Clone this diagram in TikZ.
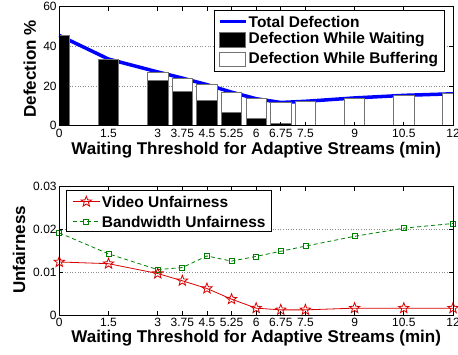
\documentclass[tikz,border=0pt]{standalone}
\usepackage{fontspec}
\setmainfont{Liberation Sans}
\usetikzlibrary{arrows.meta,positioning,shapes.geometric}

\begin{document}
\begin{tikzpicture}[x=1pt,y=1pt,
  ticklab/.style={font=\fontsize{12}{12}\selectfont,inner sep=1pt},
  axlabel/.style={font=\bfseries\fontsize{17}{17}\selectfont,inner sep=0pt},
  legtext/.style={font=\bfseries\fontsize{15.5}{15.5}\selectfont,anchor=west,inner sep=0pt},
  gridline/.style={black!45,dotted,line width=0.6pt},
  axbox/.style={line width=0.8pt},
  barpart/.style={draw=black!55,line width=0.8pt},
  total/.style={blue,line width=3.5pt},
  vidline/.style={red!85!black,line width=0.8pt},
  bwline/.style={green!50!black,line width=0.8pt,dash pattern=on 4pt off 3pt},
  vstar/.style={star,star points=5,star point ratio=2.4,draw=red!85!black,
                line width=0.8pt,minimum size=11pt,inner sep=0pt},
  bwsq/.style={rectangle,draw=green!50!black,line width=0.7pt,
               minimum size=5pt,inner sep=0pt}]
\useasboundingbox (0,0) rectangle (458,354);

% defection (top)
\begin{scope}[shift={(59.3,228.3)},x=32.81pt,y=1.983pt]
  \foreach \v in {20,40} \draw[gridline] (0,\v) -- (12,\v);
  \draw[total] plot coordinates {(0,45.5) (1.5,33.6) (3,27.1) (3.75,24.0) (4.5,20.7)
    (5.25,16.9) (6,13.6) (6.75,11.7) (7.5,12.3) (9,14.0) (10.5,15.3) (12,16.1)};
  \begin{scope}
    \clip (0,0) rectangle (12,60);
    \foreach \x/\w/\t in {0/45.5/45.5,1.5/33.6/33.6,3/23.0/27.1,3.75/17.3/24.0,
        4.5/12.8/20.7,5.25/6.9/16.9,6/3.5/13.6,6.75/1.3/11.7,7.5/0/12.3,
        9/0/14.0,10.5/0/15.3,12/0/16.1} {
      \draw[barpart,fill=white] (\x-0.31,0) rectangle (\x+0.31,\t);
      \draw[barpart,fill=black] (\x-0.31,0) rectangle (\x+0.31,\w);
    }
  \end{scope}
  \draw[axbox] (0,0) rectangle (12,60);
  \foreach \t in {0,1.5,3,3.75,4.5,5.25,6,6.75,7.5,9,10.5,12} {
    \draw[axbox] (\t,0) -- ++(0,4pt) (\t,60) -- ++(0,-4pt);
    \node[ticklab,anchor=north] (dx\t) at ([yshift=-2pt]\t,0) {\t};
  }
  \foreach \v in {0,20,40,60} {
    \draw[axbox] (0,\v) -- ++(4pt,0) (12,\v) -- ++(-4pt,0);
    \node[ticklab,anchor=east] (dy\v) at ([xshift=-1.5pt]0,\v) {\v};
  }
\end{scope}
\node[axlabel] (dxlab) at (256.2,204) {Waiting Threshold for Adaptive Streams (min)};
\node[axlabel,rotate=90] (dylab) at (29.7,285) {Defection \%};

% legend (top)
\draw[axbox,fill=white] (214,344) rectangle (444,283);
\draw[total] (219.5,332.5) coordinate (lt1) -- (246,332.5) coordinate (lt2);
\node[legtext] (ltot) at (248.5,332.5) {Total Defection};
\draw[barpart,fill=black] (219.5,321.3) rectangle (245.5,306.3);
\node[legtext] (lwait) at (248.5,314) {Defection While Waiting};
\draw[barpart,fill=white] (219.5,301.7) rectangle (245.5,287.3);
\node[legtext] (lbuf) at (248.5,294.5) {Defection While Buffering};

% unfairness (bottom)
\begin{scope}[shift={(59.3,39)},x=32.81pt,y=4.277pt]
  \foreach \v in {10,20} \draw[gridline] (0,\v) -- (12,\v);
  \foreach \x/\y [count=\i] in {0/19.2,1.5/14.3,3/10.6,3.75/11.1,4.5/13.8,5.25/12.6,
      6/13.7,6.75/14.9,7.5/16.1,9/18.4,10.5/20.3,12/21.4}
    \coordinate (b\i) at (\x,\y);
  \foreach \x/\y [count=\i] in {0/12.4,1.5/12.0,3/9.7,3.75/8.0,4.5/6.2,5.25/3.7,
      6/1.6,6.75/1.2,7.5/1.2,9/1.6,10.5/1.6,12/1.6}
    \coordinate (v\i) at (\x,\y);
  \draw[bwline] (b1) \foreach \i in {2,...,12} { -- (b\i) };
  \draw[vidline] (v1) \foreach \i in {2,...,12} { -- (v\i) };
  \foreach \i in {1,...,12} {
    \node[bwsq] (bm\i) at (b\i) {};
    \node[vstar] (vm\i) at (v\i) {};
  }
  \draw[axbox] (0,0) rectangle (12,30);
  \foreach \t in {0,1.5,3,3.75,4.5,5.25,6,6.75,7.5,9,10.5,12} {
    \draw[axbox] (\t,0) -- ++(0,4pt) (\t,30) -- ++(0,-4pt);
    \node[ticklab,anchor=north] (ux\t) at ([yshift=-2pt]\t,0) {\t};
  }
  \foreach \v/\l in {0/0,10/0.01,20/0.02,30/0.03} {
    \draw[axbox] (0,\v) -- ++(4pt,0) (12,\v) -- ++(-4pt,0);
    \node[ticklab,anchor=east] (uy\v) at ([xshift=-1.5pt]0,\v) {\l};
  }
\end{scope}
\node[axlabel] (uxlab) at (256.2,16) {Waiting Threshold for Adaptive Streams (min)};
\node[axlabel,rotate=90] (uylab) at (19,104) {Unfairness};

% legend (bottom)
\draw[axbox,fill=white] (66.7,164) rectangle (271.3,122.3);
\coordinate (lv1) at (72.7,152.3); \coordinate (lv2) at (100,152.3);
\draw[vidline] (lv1) -- (lv2);
\node[vstar] (lvm) at (86.3,152.3) {};
\node[legtext] (lvid) at (101.7,152.3) {Video Unfairness};
\coordinate (lb1) at (72.7,132.3); \coordinate (lb2) at (100,132.3);
\draw[bwline] (lb1) -- (lb2);
\node[bwsq] (lbm) at (86.3,132.3) {};
\node[legtext] (lbw) at (101.7,132.3) {Bandwidth Unfairness};
\end{tikzpicture}
\end{document}
